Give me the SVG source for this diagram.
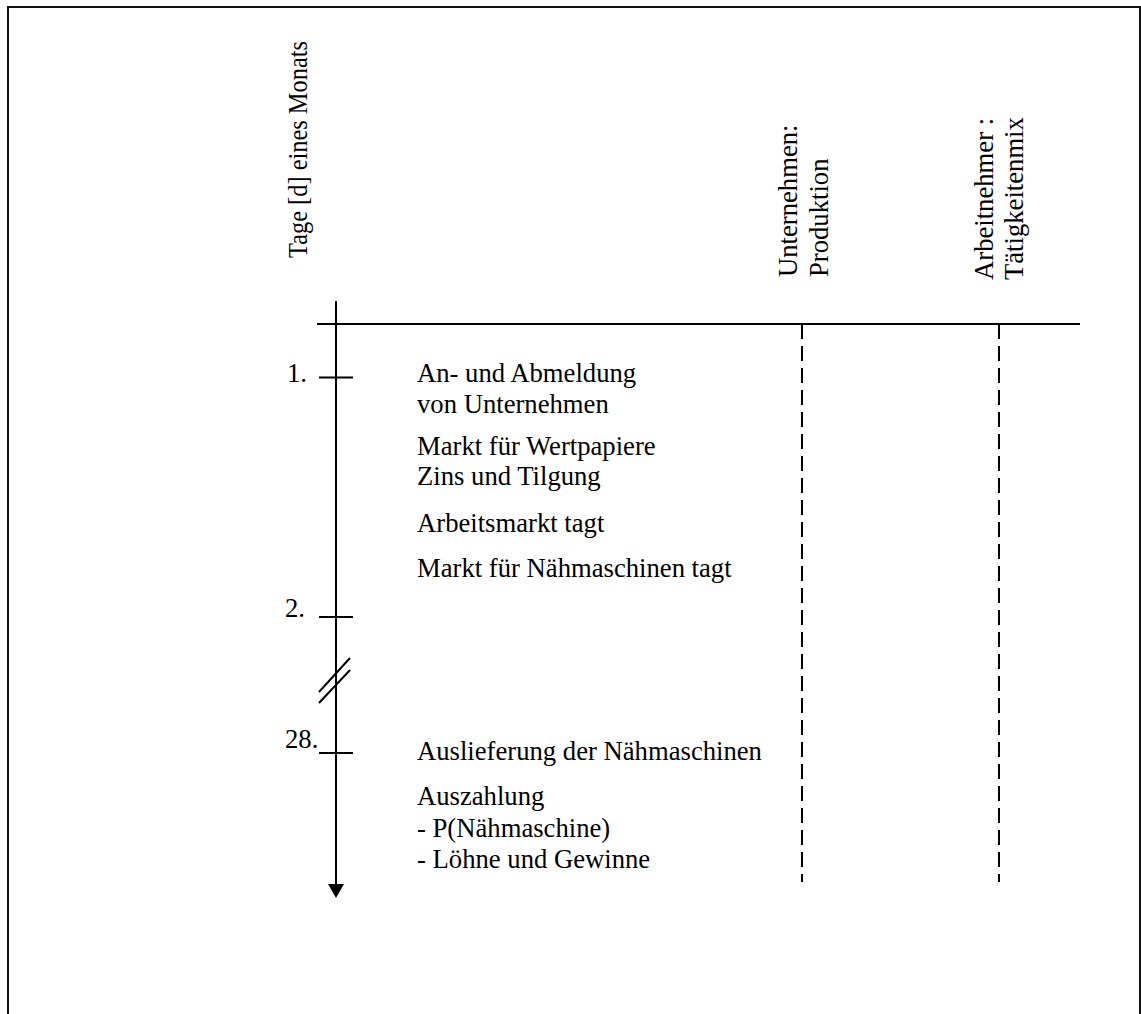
<svg xmlns="http://www.w3.org/2000/svg" width="1141" height="1014" viewBox="0 0 1141 1014">
<style>
text{font-family:"Liberation Serif","Times New Roman",serif;font-size:26.67px;fill:#000}
.ln{stroke:#000;stroke-width:2;fill:none}
.dash{stroke:#000;stroke-width:2;fill:none;stroke-dasharray:15 7}
</style>
<rect x="8" y="7" width="1132" height="1100" fill="#fff" stroke="#111" stroke-width="2"/>
<g id="connectors">
<line class="ln" x1="336" y1="301" x2="336" y2="885"/>
<path d="M328,884 L344,884 L336,898 Z" fill="#000"/>
<line class="ln" x1="317" y1="324" x2="1080" y2="324"/>
<line class="dash" x1="802" y1="324" x2="802" y2="882"/>
<line class="dash" x1="999" y1="324" x2="999" y2="882"/>
<line class="ln" x1="319" y1="377.5" x2="353" y2="377.5"/>
<line class="ln" x1="319" y1="617" x2="353" y2="617"/>
<line class="ln" x1="319" y1="753" x2="353" y2="753"/>
<line class="ln" x1="319" y1="692" x2="350" y2="658"/>
<line class="ln" x1="319" y1="703" x2="350" y2="670"/>
</g>
<g id="axis-label">
<text transform="translate(307,258) rotate(-90)" textLength="217" lengthAdjust="spacingAndGlyphs">Tage [d] eines Monats</text>
</g>
<g id="col-unternehmen">
<text transform="translate(797,277) rotate(-90)">Unternehmen:</text>
<text transform="translate(828,277) rotate(-90)">Produktion</text>
</g>
<g id="col-arbeitnehmer">
<text transform="translate(993,280) rotate(-90)">Arbeitnehmer :</text>
<text transform="translate(1023,280) rotate(-90)">Tätigkeitenmix</text>
</g>
<g id="day-labels">
<text x="287" y="382">1.</text>
<text x="285" y="617">2.</text>
<text x="285" y="748">28.</text>
</g>
<g id="day1-events">
<text x="417" y="382">An- und Abmeldung</text>
<text x="417" y="413">von Unternehmen</text>
<text x="417" y="455">Markt für Wertpapiere</text>
<text x="417" y="485">Zins und Tilgung</text>
<text x="417" y="532">Arbeitsmarkt tagt</text>
<text x="417" y="577">Markt für Nähmaschinen tagt</text>
</g>
<g id="day28-events">
<text x="417" y="760">Auslieferung der Nähmaschinen</text>
<text x="417" y="805">Auszahlung</text>
<text x="417" y="837">- P(Nähmaschine)</text>
<text x="417" y="868">- Löhne und Gewinne</text>
</g>
</svg>
